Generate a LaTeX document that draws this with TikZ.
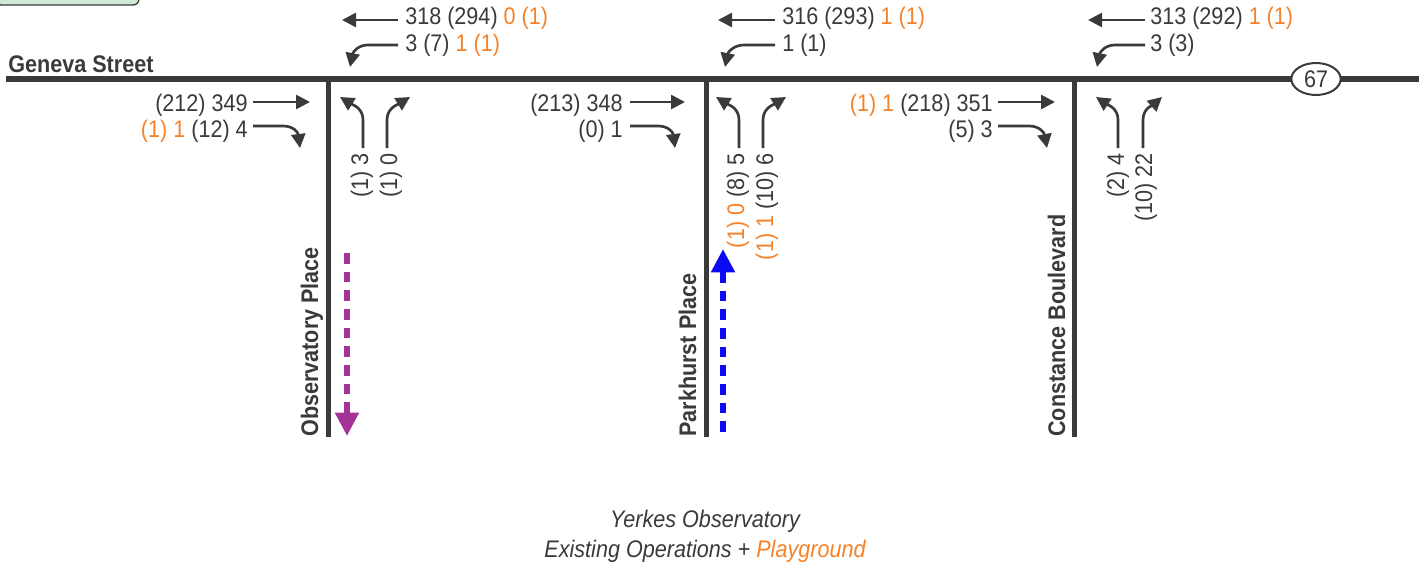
\documentclass[tikz,border=0pt]{standalone}
\usepackage{fontspec}
\setmainfont{Liberation Sans}[FakeStretch=0.9]
\usetikzlibrary{arrows.meta,shapes.geometric}
\definecolor{ink}{RGB}{58,58,58}
\definecolor{org}{RGB}{245,130,40}
\definecolor{purp}{RGB}{163,51,150}
\definecolor{blu}{RGB}{10,10,245}
\definecolor{boxgreen}{RGB}{208,234,216}
\begin{document}
\begin{tikzpicture}[x=0.75pt,y=-0.75pt,
  road/.style={line width=3.75pt, draw=ink},
  mv/.style={line width=2pt, draw=ink, -{Triangle[length=10.5pt,width=10.5pt]}},
  num/.style={inner sep=0pt, text=ink, font=\fontsize{18}{20}\selectfont},
  rname/.style={inner sep=0pt, text=ink, font=\bfseries\fontsize{18}{20}\selectfont},
  ttl/.style={inner sep=0pt, text=ink, font=\itshape\fontsize{18}{20}\selectfont},
  bigdash/.style={line width=4.3pt, dash pattern=on 8pt off 6pt, -{Triangle[length=17.5pt,width=17pt]}}]
\useasboundingbox (0,0) rectangle (1419,567);
\clip (0,0) rectangle (1419,567);

% legend box (partly visible)
\draw[ink, line width=1pt, fill=boxgreen, rounded corners=4.5pt] (-5,-30) rectangle (139,5);

% roads
\coordinate (gw) at (6,79);
\coordinate (ge) at (1419,79);
\draw[road] (gw) -- (ge);
\coordinate (ot) at (328,77); \coordinate (ob) at (328,437);
\coordinate (pt) at (706,77); \coordinate (pb) at (706,437);
\coordinate (ct) at (1074,77); \coordinate (cb) at (1074,437);
\draw[road] (ot) -- (ob);
\draw[road] (pt) -- (pb);
\draw[road] (ct) -- (cb);
\node[draw=ink, line width=1.5pt, fill=white, ellipse, inner sep=0pt,
      minimum width=37pt, minimum height=24pt, text=ink,
      font=\fontsize{18}{20}\selectfont] (rt67) at (1316,79) {67};

% road names
\node[rname, anchor=base west] (geneva) at (8,73) {Geneva Street};
\node[rname, rotate=90, anchor=base west] (obsname) at (318,437) {Observatory Place};
\node[rname, rotate=90, anchor=base west] (parkname) at (696,437) {Parkhurst Place};
\node[rname, rotate=90, anchor=base west] (consname) at (1065,437) {Constance Boulevard};

% Observatory Place intersection
\begin{scope}[shift={(328,0)}]
  \draw[mv] (70,20) -- (14,20);
  \node[num, anchor=base west] (o-wbt) at (77,25) {318 (294) \textcolor{org}{0 (1)}};
  \draw[mv] (70,45) -- (40,45) .. controls (30,45) and (25,52) .. (22,67);
  \node[num, anchor=base west] (o-wbl) at (77,52) {3 (7) \textcolor{org}{1 (1)}};
  \draw[mv] (-75,102) -- (-18,102);
  \node[num, anchor=base east] (o-ebt) at (-80,111) {(212) 349};
  \draw[mv] (-75,126) -- (-45,126) .. controls (-35,126) and (-30,132) .. (-28,148);
  \node[num, anchor=base east] (o-ebr) at (-80,137) {\textcolor{org}{(1) 1} (12) 4};
  \draw[mv] (35,148) -- (35,120) .. controls (35,108) and (25,105) .. (12,97);
  \draw[mv] (59,148) -- (59,120) .. controls (59,108) and (69,105) .. (82,97);
  \node[num, rotate=90, anchor=base east] (o-nbl) at (40,153) {(1) 3};
  \node[num, rotate=90, anchor=base east] (o-nbr) at (69,153) {(1) 0};
\end{scope}

% Parkhurst Place intersection
\begin{scope}[shift={(706,0)}]
  \draw[mv] (69,20) -- (12,20);
  \node[num, anchor=base west] (p-wbt) at (76,25) {316 (293) \textcolor{org}{1 (1)}};
  \draw[mv] (69,45) -- (38,45) .. controls (28,45) and (22,52) .. (19,67);
  \node[num, anchor=base west] (p-wbl) at (76,52) {1 (1)};
  \draw[mv] (-76,102) -- (-21,102);
  \node[num, anchor=base east] (p-ebt) at (-83,111) {(213) 348};
  \draw[mv] (-76,126) -- (-48,126) .. controls (-38,126) and (-33,132) .. (-31,148);
  \node[num, anchor=base east] (p-ebr) at (-83,137) {(0) 1};
  \draw[mv] (33,148) -- (33,120) .. controls (33,108) and (23,105) .. (10,97);
  \draw[mv] (57,148) -- (57,120) .. controls (57,108) and (67,105) .. (80,97);
  \node[num, rotate=90, anchor=base east] (p-nbl) at (38,153) {\textcolor{org}{(1) 0} (8) 5};
  \node[num, rotate=90, anchor=base east] (p-nbr) at (67,153) {\textcolor{org}{(1) 1} (10) 6};
\end{scope}

% Constance Boulevard intersection
\begin{scope}[shift={(1074,0)}]
  \draw[mv] (71,20) -- (14,20);
  \node[num, anchor=base west] (c-wbt) at (76,25) {313 (292) \textcolor{org}{1 (1)}};
  \draw[mv] (71,45) -- (41,45) .. controls (31,45) and (26,52) .. (23,67);
  \node[num, anchor=base west] (c-wbl) at (76,52) {3 (3)};
  \draw[mv] (-76,102) -- (-19,102);
  \node[num, anchor=base east] (c-ebt) at (-81,111) {\textcolor{org}{(1) 1} (218) 351};
  \draw[mv] (-76,126) -- (-45,126) .. controls (-35,126) and (-30,132) .. (-27,148);
  \node[num, anchor=base east] (c-ebr) at (-81,137) {(5) 3};
  \draw[mv] (44,148) -- (44,120) .. controls (44,108) and (34,105) .. (22,97);
  \draw[mv] (69,148) -- (69,120) .. controls (69,108) and (79,105) .. (88,97);
  \node[num, rotate=90, anchor=base east] (c-nbl) at (50,153) {(2) 4};
  \node[num, rotate=90, anchor=base east] (c-nbr) at (78,153) {(10) 22};
\end{scope}

% dashed route arrows
\coordinate (pa) at (347,253); \coordinate (pz) at (347,436);
\draw[bigdash, purp] (pa) -- (pz);
\coordinate (ba) at (723,432); \coordinate (bz) at (723,249);
\draw[bigdash, blu] (ba) -- (bz);

% title
\node[ttl, anchor=base] (t1) at (705,527) {Yerkes Observatory};
\node[ttl, anchor=base] (t2) at (705,557) {Existing Operations + \textcolor{org}{Playground}};
\end{tikzpicture}
\end{document}
